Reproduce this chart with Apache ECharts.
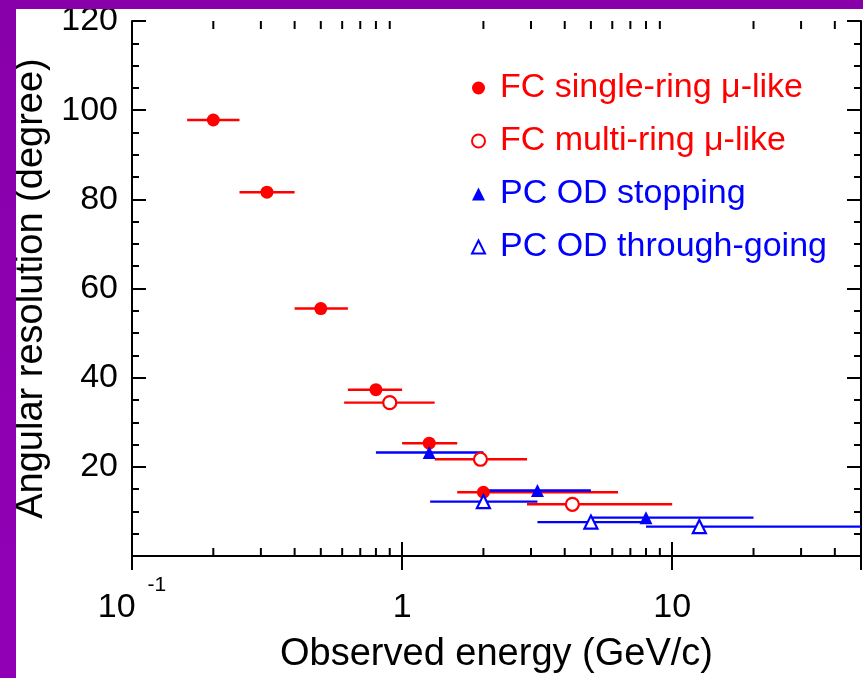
<!DOCTYPE html>
<html>
<head>
<meta charset="utf-8">
<script src="https://cdn.jsdelivr.net/npm/echarts@6/dist/echarts.min.js"></script>
<style>
  html, body { margin: 0; padding: 0; width: 863px; height: 678px; overflow: hidden; }
  body { background: linear-gradient(180deg, #8800aa 0%, #9200b6 100%); position: relative; }
  #chart { position: absolute; left: 16px; top: 9px; width: 847px; height: 669px; background: #fff; }
</style>
</head>
<body>
<div id="chart"></div>
<script>
// FC single-ring mu-like
var fcSingleE  = [0.2, 0.316, 0.5, 0.8, 1.26, 2.0];
var fcSingleLo = [0.16, 0.25, 0.4, 0.63, 1.0, 1.6];
var fcSingleHi = [0.25, 0.4, 0.63, 1.0, 1.6, 6.3];
var fcSingleRes = [97.8, 81.6, 55.5, 37.3, 25.3, 14.3];

// FC multi-ring mu-like
var fcMultiE  = [0.9, 1.95, 4.27];
var fcMultiLo = [0.61, 1.32, 2.9];
var fcMultiHi = [1.32, 2.9, 10];
var fcMultiRes = [34.4, 21.7, 11.6];

// PC OD stopping
var pcStopE  = [1.26, 3.17, 8.0];
var pcStopLo = [0.8, 2.0, 5.0];
var pcStopHi = [2.0, 5.0, 20];
var pcStopRes = [23.2, 14.7, 8.6];

// PC OD through-going
var pcThruE  = [2.0, 5.0, 12.6];
var pcThruLo = [1.27, 3.17, 8.0];
var pcThruHi = [3.17, 8.0, 50];
var pcThruRes = [12.2, 7.6, 6.6];

var xMin = 0.1, xMax = 50;
var yMin = 0, yMax = 120;
var logMinorTicks = [0.2, 0.3, 0.4, 0.5, 0.6, 0.7, 0.8, 0.9, 2, 3, 4, 5, 6, 7, 8, 9, 20, 30, 40];

var RED = '#ff0000', BLUE = '#0000ff';
var FONT = '"Liberation Sans", Arial, Helvetica, sans-serif';

function points(e, r) {
    return e.map(function (v, i) { return [v, r[i]]; });
}
function bars(lo, hi, r) {
    return lo.map(function (v, i) { return [v, hi[i], r[i]]; });
}
function errBarSeries(lo, hi, r, color) {
    return {
        type: 'custom',
        clip: true,
        z: 2,
        silent: true,
        encode: { x: [0, 1], y: 2 },
        data: bars(lo, hi, r),
        renderItem: function (params, api) {
            var y = api.value(2);
            var p1 = api.coord([api.value(0), y]);
            var p2 = api.coord([api.value(1), y]);
            return {
                type: 'line',
                shape: { x1: p1[0], y1: p1[1], x2: p2[0], y2: p2[1] },
                style: { stroke: color, lineWidth: 2.4 }
            };
        }
    };
}

var myChart = echarts.init(document.getElementById('chart'));

var option = {
    animation: false,
    textStyle: { fontFamily: FONT },
    grid: { left: 116, top: 12, right: 2, bottom: 122, containLabel: false, outerBoundsMode: 'none' },
    legend: {
        orient: 'vertical',
        left: 455,
        top: 62,
        padding: 0,
        itemGap: 19,
        itemWidth: 13,
        itemHeight: 13,
        textStyle: { fontSize: 34, fontFamily: FONT, padding: [0, 0, 0, 10] },
        data: [
            { name: 'FC single-ring μ-like', textStyle: { color: RED } },
            { name: 'FC multi-ring μ-like', textStyle: { color: RED } },
            { name: 'PC OD stopping', textStyle: { color: BLUE } },
            { name: 'PC OD through-going', textStyle: { color: BLUE } }
        ]
    },
    xAxis: [
        {
            type: 'log',
            logBase: 10,
            min: xMin,
            max: xMax,
            position: 'bottom',
            name: 'Observed energy (GeV/c)',
            nameLocation: 'middle',
            nameGap: 80,
            nameTextStyle: { fontSize: 38, color: '#000', fontFamily: FONT },
            axisLine: { show: true, lineStyle: { color: '#000', width: 2 } },
            axisTick: { show: true, inside: true, length: 14, lineStyle: { color: '#000', width: 2 } },
            splitLine: { show: false },
            axisLabel: {
                margin: 19,
                formatter: function (v) {
                    var p = Math.log10(v);
                    if (Math.abs(p - Math.round(p)) > 1e-6) return '';
                    p = Math.round(p);
                    if (p < 0) return '{b|10}{s|' + p + '}';
                    return '{b|' + Math.pow(10, p) + '}';
                },
                rich: {
                    b: { fontSize: 34, color: '#000', fontFamily: FONT, lineHeight: 50, verticalAlign: 'bottom' },
                    s: { fontSize: 21, color: '#000', fontFamily: FONT, lineHeight: 21, verticalAlign: 'top', padding: [0, 0, 0, 12] }
                }
            }
        },
        {
            type: 'log',
            logBase: 10,
            min: xMin,
            max: xMax,
            position: 'top',
            axisLine: { show: true, lineStyle: { color: '#000', width: 2 } },
            axisTick: { show: true, inside: true, length: 14, lineStyle: { color: '#000', width: 2 } },
            axisLabel: { show: false },
            splitLine: { show: false }
        }
    ],
    yAxis: [
        {
            type: 'value',
            min: yMin,
            max: yMax,
            interval: 20,
            position: 'left',
            name: 'Angular resolution (degree)',
            nameLocation: 'middle',
            nameGap: 80,
            nameTextStyle: { fontSize: 38, color: '#000', fontFamily: FONT },
            axisLine: { show: true, lineStyle: { color: '#000', width: 2 } },
            axisTick: { show: true, inside: true, length: 14, lineStyle: { color: '#000', width: 2 } },
            minorTick: { show: true, splitNumber: 4, length: 7, lineStyle: { color: '#000', width: 2 } },
            splitLine: { show: false },
            axisLabel: {
                margin: 14,
                fontSize: 34,
                color: '#000',
                fontFamily: FONT,
                formatter: function (v) { return v === 0 ? '' : String(v); }
            }
        },
        {
            type: 'value',
            min: yMin,
            max: yMax,
            interval: 20,
            position: 'right',
            axisLine: { show: true, lineStyle: { color: '#000', width: 2 } },
            axisTick: { show: true, inside: true, length: 14, lineStyle: { color: '#000', width: 2 } },
            minorTick: { show: true, splitNumber: 4, length: 7, lineStyle: { color: '#000', width: 2 } },
            splitLine: { show: false },
            axisLabel: { show: false }
        }
    ],
    series: [
        // minor ticks of the log axes (bottom and top)
        {
            type: 'custom',
            silent: true,
            z: 1,
            encode: { x: 0 },
            data: logMinorTicks.map(function (v) { return [v]; }),
            renderItem: function (params, api) {
                var b = api.coord([api.value(0), yMin]);
                var t = api.coord([api.value(0), yMax]);
                var st = { stroke: '#000', lineWidth: 2 };
                return {
                    type: 'group',
                    children: [
                        { type: 'line', shape: { x1: b[0], y1: b[1], x2: b[0], y2: b[1] - 8 }, style: st },
                        { type: 'line', shape: { x1: t[0], y1: t[1], x2: t[0], y2: t[1] + 8 }, style: st }
                    ]
                };
            }
        },
        errBarSeries(fcSingleLo, fcSingleHi, fcSingleRes, RED),
        errBarSeries(fcMultiLo, fcMultiHi, fcMultiRes, RED),
        errBarSeries(pcStopLo, pcStopHi, pcStopRes, BLUE),
        errBarSeries(pcThruLo, pcThruHi, pcThruRes, BLUE),
        {
            name: 'FC single-ring μ-like',
            type: 'scatter',
            z: 5,
            symbol: 'circle',
            symbolSize: 13,
            itemStyle: { color: RED, opacity: 1 },
            data: points(fcSingleE, fcSingleRes)
        },
        {
            name: 'FC multi-ring μ-like',
            type: 'scatter',
            z: 5,
            symbol: 'circle',
            symbolSize: 13,
            itemStyle: { color: '#fff', borderColor: RED, borderWidth: 2.2, opacity: 1 },
            data: points(fcMultiE, fcMultiRes)
        },
        {
            name: 'PC OD stopping',
            type: 'scatter',
            z: 5,
            symbol: 'triangle',
            symbolSize: 13,
            itemStyle: { color: BLUE, opacity: 1 },
            data: points(pcStopE, pcStopRes)
        },
        {
            name: 'PC OD through-going',
            type: 'scatter',
            z: 5,
            symbol: 'triangle',
            symbolSize: 13,
            itemStyle: { color: '#fff', borderColor: BLUE, borderWidth: 2.2, opacity: 1 },
            data: points(pcThruE, pcThruRes)
        }
    ]
};

myChart.setOption(option);
</script>
</body>
</html>
